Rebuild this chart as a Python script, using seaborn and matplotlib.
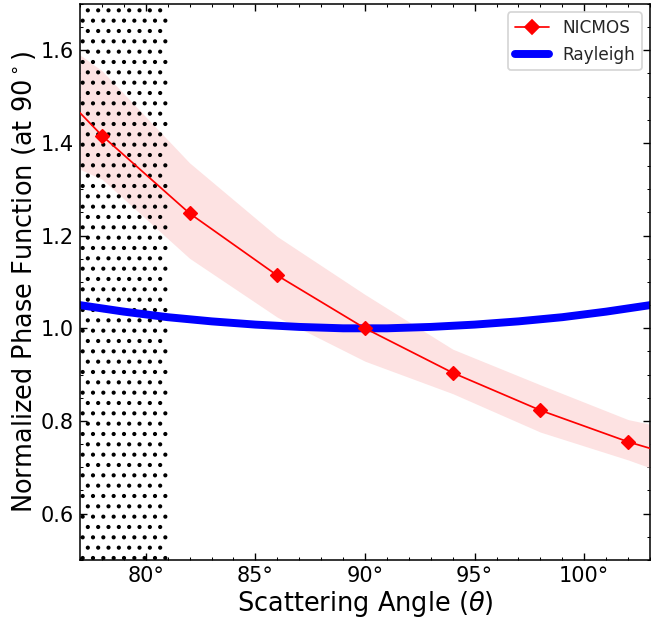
import numpy as np
import pandas as pd
import matplotlib
matplotlib.use("Agg")
import matplotlib.pyplot as plt
import seaborn as sns
from matplotlib.ticker import MultipleLocator
from matplotlib.lines import Line2D

sns.set_style("ticks")
plt.rcParams['font.family'] = ['DejaVu Sans']
plt.rcParams['mathtext.fontset'] = 'dejavusans'
plt.rcParams['hatch.linewidth'] = 1.2

# NICMOS measured points (markers)
nic_angle = [78, 82, 86, 90, 94, 98, 102]
nic_value = [1.416, 1.248, 1.114, 1.0, 0.904, 0.823, 0.755]
# NICMOS curve incl. edges of the plot
nic_line_angle = [77, 78, 82, 86, 90, 94, 98, 102, 103]
nic_line_value = [1.465, 1.416, 1.248, 1.114, 1.0, 0.904, 0.823, 0.755, 0.741]
# uncertainty band
band_angle = [77, 78, 82, 86, 90, 94, 98, 102, 103]
band_upper = [1.590, 1.556, 1.357, 1.198, 1.073, 0.955, 0.878, 0.803, 0.793]
band_lower = [1.343, 1.322, 1.151, 1.024, 0.929, 0.859, 0.776, 0.716, 0.699]
# Rayleigh curve
ray_angle = [77, 79, 81, 83, 85, 87, 89, 91, 93, 95, 97, 99, 101, 103]
ray_value = [1.050, 1.036, 1.024, 1.015, 1.008, 1.003, 1.000, 1.000, 1.003,
             1.008, 1.015, 1.024, 1.036, 1.050]
# masked region
mask_start, mask_end = 77, 81

x_ticks = [80, 85, 90, 95, 100]
x_tick_labels = ["80°", "85°", "90°", "95°", "100°"]
y_ticks = [0.6, 0.8, 1.0, 1.2, 1.4, 1.6]

DPI = 124
fig = plt.figure(figsize=(651 / DPI, 620 / DPI), dpi=DPI)
ax = fig.add_axes([0.1229, 0.0968, 0.8756, 0.8968])

ax.fill_between(band_angle, band_lower, band_upper, color='#fde2e2',
                linewidth=0, zorder=1)
ax.axvspan(mask_start, mask_end, facecolor='none', edgecolor='black',
           hatch='..', linewidth=0, zorder=1.5)

sns.lineplot(x=nic_line_angle, y=nic_line_value, color='red', lw=1.0,
             ax=ax, zorder=3)
sns.lineplot(x=nic_angle, y=nic_value, color='red', lw=0, marker='D',
             markersize=5.6, markeredgecolor='red', ax=ax, zorder=4)
sns.lineplot(x=ray_angle, y=ray_value, color='blue', lw=4.6, ax=ax, zorder=2)

handles = [Line2D([], [], color='red', lw=1.0, marker='D', markersize=5.6),
           Line2D([], [], color='blue', lw=4.6)]
ax.legend(handles, ['NICMOS', 'Rayleigh'], loc='upper right', fontsize=9.8,
          frameon=True, handlelength=2.0)

ax.set_xlim(77, 103)
ax.set_ylim(0.5, 1.7)
ax.set_xticks(x_ticks)
ax.set_xticklabels(x_tick_labels)
ax.set_yticks(y_ticks)
ax.xaxis.set_minor_locator(MultipleLocator(1))
ax.yaxis.set_minor_locator(MultipleLocator(0.05))
ax.tick_params(which='both', direction='in', top=True, right=True,
               labelsize=12.1, color='black', labelcolor='black')
ax.tick_params(which='major', length=3.8, width=0.8)
ax.tick_params(which='minor', length=2.0, width=0.6)
for s in ax.spines.values():
    s.set_linewidth(0.9)
    s.set_color('black')

ax.set_xlabel(r'Scattering Angle ($\theta$)', fontsize=14.9, color='black',
              labelpad=2)
ax.set_ylabel(r'Normalized Phase Function (at 90$^\circ$)', fontsize=14.9,
              color='black', labelpad=1.5)

fig.savefig('out.png', dpi=DPI)
